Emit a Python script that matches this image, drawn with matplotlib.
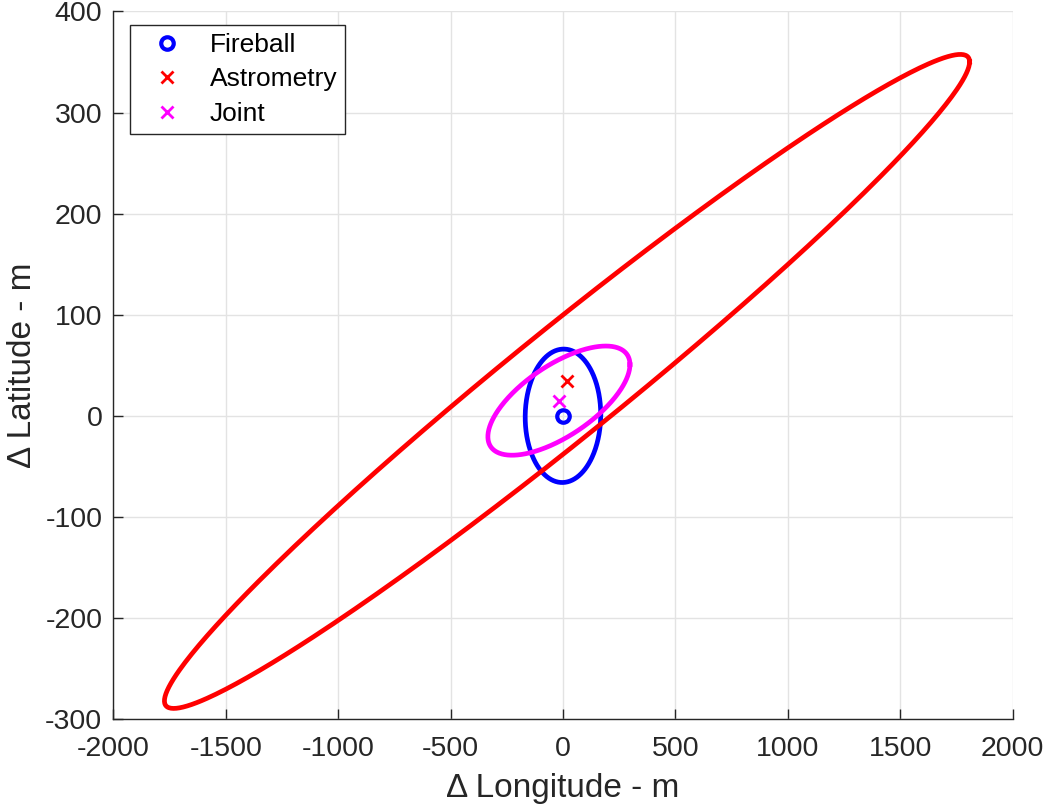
import matplotlib.pyplot as plt
import numpy as np

plt.rcParams['font.family'] = ['Liberation Sans', 'DejaVu Sans']
plt.rcParams['axes.unicode_minus'] = False

# point estimates (m)
names = ['Fireball', 'Astrometry', 'Joint']
centre_x = [0, 18, -18]
centre_y = [0, 34, 15]
colors = ['#0000ff', '#ff0000', '#ff00ff']
markers = ['o', 'x', 'x']

# uncertainty ellipses: half extent in x / y and correlation
half_x = [168, 1791, 316]
half_y = [66, 323.5, 54]
rho = [0.02, 0.977, 0.66]

x_ticks = [-2000, -1500, -1000, -500, 0, 500, 1000, 1500, 2000]
y_ticks = [-300, -200, -100, 0, 100, 200, 300, 400]

axis_col = '#262626'

fig = plt.figure(figsize=(10.5, 8.07), dpi=100)
ax = fig.add_axes([0.108, 0.109, 0.8563, 0.8768])

t = np.linspace(0, 2 * np.pi, 400)
for cx, cy, hx, hy, r, c in zip(centre_x, centre_y, half_x, half_y, rho, colors):
    ex = cx + hx * np.cos(t)
    ey = cy + hy * (r * np.cos(t) + np.sqrt(1 - r ** 2) * np.sin(t))
    ax.plot(ex, ey, color=c, linewidth=3.4, zorder=3)

handles = []
for name, cx, cy, c, m in zip(names, centre_x, centre_y, colors, markers):
    if m == 'o':
        h, = ax.plot(cx, cy, m, markersize=9, markerfacecolor='none',
                     markeredgecolor=c, markeredgewidth=3, linestyle='none',
                     label=name, zorder=4)
    else:
        h, = ax.plot(cx, cy, m, markersize=9, color=c, markeredgewidth=2,
                     linestyle='none', label=name, zorder=4)
    handles.append(h)

ax.set_xlim(-2000, 2000)
ax.set_ylim(-300, 400)
ax.set_xticks(x_ticks)
ax.set_yticks(y_ticks)
ax.grid(True, color='#e3e3e3', linewidth=1)
ax.set_axisbelow(True)

for side in ['top', 'right']:
    ax.spines[side].set_visible(False)
for side in ['left', 'bottom']:
    ax.spines[side].set_color(axis_col)
    ax.spines[side].set_linewidth(1)

ax.tick_params(direction='in', length=7, width=1, colors=axis_col,
               labelsize=20.5)
ax.tick_params(axis='x', pad=12)
ax.tick_params(axis='y', pad=8)
ax.set_xlabel('\u0394 Longitude - m', fontsize=24, color=axis_col, labelpad=8)
ax.set_ylabel('\u0394 Latitude - m', fontsize=24, color=axis_col, labelpad=5)

leg = ax.legend(handles=handles, loc='upper left', bbox_to_anchor=(0.019, 0.981),
                fontsize=19, fancybox=False, framealpha=1, edgecolor=axis_col,
                handlelength=2.2, handletextpad=0.5, borderpad=0.3,
                labelspacing=0.4, borderaxespad=0)
leg.get_frame().set_linewidth(1)
for txt in leg.get_texts():
    txt.set_color('black')

fig.savefig('out.png', dpi=100)
